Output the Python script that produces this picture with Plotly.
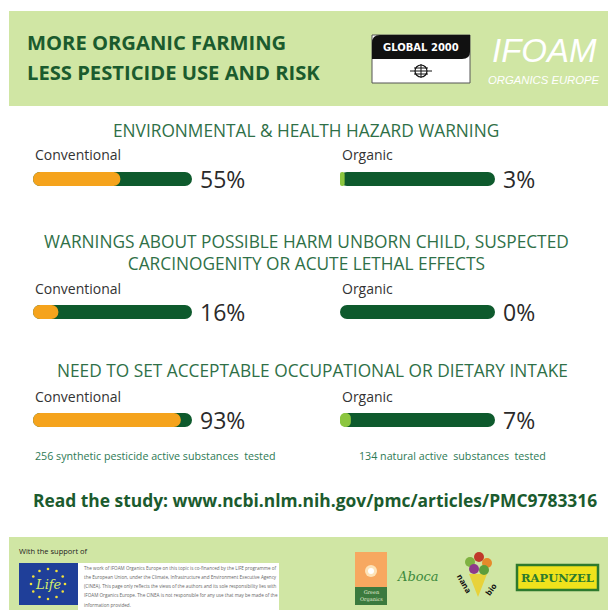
import math
import plotly.graph_objects as go

W, H = 608, 610

# ---------------- data ----------------
section_titles = [
    "ENVIRONMENTAL & HEALTH HAZARD WARNING",
    "WARNINGS ABOUT POSSIBLE HARM UNBORN CHILD, SUSPECTED<br>CARCINOGENITY OR ACUTE LETHAL EFFECTS",
    "NEED TO SET ACCEPTABLE OCCUPATIONAL OR DIETARY INTAKE",
]
groups = ["Conventional", "Organic"]
conventional_pct = [55, 16, 93]
organic_pct = [3, 0, 7]
tested_notes = [
    "256 synthetic pesticide active substances  tested",
    "134 natural active  substances  tested",
]
header_lines = ["MORE ORGANIC FARMING", "LESS PESTICIDE USE AND RISK"]
study_text = "Read the study: www.ncbi.nlm.nih.gov/pmc/articles/PMC9783316"
disclaimer_lines = [
    "The work of IFOAM Organics Europe on this topic is co-financed by the LIFE programme of",
    "the European Union, under the Climate, Infrastructure and Environment Executive Agency",
    "(CINEA). This page only reflects the views of the authors and its sole responsibility lies with",
    "IFOAM Organics Europe. The CINEA is not responsible for any use that may be made of the",
    "information provided.",
]

# ---------------- style / layout ----------------
FONT = "Open Sans"
BAND = "#d0e6a4"
DARK = "#0e5a2d"
TITLE_GREEN = "#2f7047"
ORANGE = "#f5a31c"
LIME = "#8cc63f"
fill_colors = [ORANGE, LIME]
values = [conventional_pct, organic_pct]

col_left = [(33, 192), (340, 495)]          # pixel span of the tracks
bar_center = [179, 312, 420]
bar_thick = 14
title_y = [130, 253, 370]
title_x = [306, 306, 312]


def px(x):
    return x / W


def py(y):
    return 1 - y / H


def note(x, y, text, font, **kw):
    d = dict(xref="paper", yref="paper", x=px(x), y=py(y), text=text, showarrow=False,
             xanchor="center", yanchor="middle", font=font)
    d.update(kw)
    return d


fig = go.Figure()
xnames = ["x", "x2"]
ynames = ["y", "y2", "y3"]

annotations = []
shapes = []

for i in range(3):
    for j in range(2):
        xa, ya = xnames[j], ynames[i]
        fig.add_trace(go.Bar(
            x=[100], base=[0], y=[0], orientation="h", width=1,
            marker=dict(color=DARK, cornerradius=7, line_width=0),
            xaxis=xa, yaxis=ya, hoverinfo="skip", showlegend=False))
        v = values[j][i]
        fig.add_trace(go.Bar(
            x=[v], base=[0], y=[0], orientation="h", width=1,
            marker=dict(color=fill_colors[j], cornerradius=7, line_width=0),
            xaxis=xa, yaxis=ya, hoverinfo="skip", showlegend=False))
        annotations.append(dict(
            xref=xa, yref=ya, x=100, y=0, xanchor="left", yanchor="middle",
            xshift=6, text=f"{v}%", showarrow=False,
            font=dict(family=FONT, size=23, color="#2a2a2a")))
        annotations.append(note(col_left[j][0], bar_center[i] - 24, groups[j],
                                dict(family=FONT, size=14, color="#333333"), xanchor="left"))
    annotations.append(note(title_x[i], title_y[i], section_titles[i],
                            dict(family=FONT, size=17.3, color=TITLE_GREEN)))

for j in range(2):
    annotations.append(note(col_left[j][0] + (0 if j == 0 else 17), 456, tested_notes[j],
                            dict(family=FONT, size=10.7, color="#2e7a55"), xanchor="left"))

layout_axes = {}
for j in range(2):
    key = "xaxis" if j == 0 else f"xaxis{j + 1}"
    layout_axes[key] = dict(domain=[px(col_left[j][0]), px(col_left[j][1])], range=[0, 100],
                            visible=False, fixedrange=True, anchor="y")
for i in range(3):
    key = "yaxis" if i == 0 else f"yaxis{i + 1}"
    c = bar_center[i]
    layout_axes[key] = dict(domain=[py(c + bar_thick / 2), py(c - bar_thick / 2)], range=[-0.5, 0.5],
                            visible=False, fixedrange=True, anchor="x")

# ---------------- header ----------------
shapes.append(dict(type="rect", xref="paper", yref="paper", x0=px(9), x1=px(608), y0=py(106), y1=py(11),
                   fillcolor=BAND, line_width=0, layer="below"))
for k, t in enumerate(header_lines):
    annotations.append(note(25, 42 + 30 * k, f"<b>{t}</b>",
                            dict(family=FONT, size=20.2, color="#1b5b2e"), xanchor="left"))

# GLOBAL 2000 logo
shapes.append(dict(type="rect", xref="paper", yref="paper", x0=px(372), x1=px(470), y0=py(83), y1=py(35),
                   fillcolor="white", line=dict(color="#555", width=1)))
gx0, gx1, gy0, gy1 = px(372), px(470), py(35), py(59)
shapes.append(dict(type="path", xref="paper", yref="paper",
                   path=f"M {px(380)} {gy0} L {gx1} {gy0} L {gx1} {py(52)} Q {gx1} {gy1} {px(462)} {gy1} "
                        f"L {gx0} {gy1} L {gx0} {py(43)} Q {gx0} {gy0} {px(380)} {gy0} Z",
                   fillcolor="#111", line_width=0))
annotations.append(note(421, 47.5, "<b>GLOBAL 2000</b>", dict(family="DejaVu Sans", size=10, color="white")))
shapes.append(dict(type="circle", xref="paper", yref="paper", x0=px(415), x1=px(427), y0=py(77), y1=py(65),
                   line=dict(color="#111", width=1.2)))
for yy in (68, 71, 74):
    shapes.append(dict(type="line", xref="paper", yref="paper", x0=px(410 if yy == 71 else 414),
                       x1=px(432 if yy == 71 else 428), y0=py(yy), y1=py(yy), line=dict(color="#111", width=1)))
shapes.append(dict(type="line", xref="paper", yref="paper", x0=px(421), x1=px(421), y0=py(64), y1=py(78),
                   line=dict(color="#111", width=1)))

# IFOAM logo
annotations.append(note(544, 51, "<i>IFOAM</i>", dict(family="Liberation Sans", size=33, color="white")))
annotations.append(note(544, 80, "<i>ORGANICS EUROPE</i>", dict(family="Liberation Sans", size=11.3,
                                                                  color="white")))

# ---------------- study link ----------------
annotations.append(note(31, 500, f"<b>{study_text}</b>", dict(family=FONT, size=17.4, color="#1b5b2e"),
                        xanchor="left"))

# ---------------- footer ----------------
shapes.append(dict(type="rect", xref="paper", yref="paper", x0=px(9), x1=px(608), y0=py(610), y1=py(537),
                   fillcolor=BAND, line_width=0, layer="below"))
annotations.append(note(17, 551, "With the support of", dict(family=FONT, size=7.5, color="#222"),
                        xanchor="left"))
# EU LIFE logo
shapes.append(dict(type="rect", xref="paper", yref="paper", x0=px(19), x1=px(78), y0=py(605), y1=py(563),
                   fillcolor="#1f3f99", line_width=0))
for k in range(12):
    a = 2 * math.pi * k / 12
    cx, cy = 48 + 17 * math.cos(a), 584 + 15 * math.sin(a)
    shapes.append(dict(type="circle", xref="paper", yref="paper", x0=px(cx - 1.3), x1=px(cx + 1.3),
                       y0=py(cy + 1.3), y1=py(cy - 1.3), fillcolor="#f3e23a", line_width=0))
annotations.append(note(48, 584, "<i>Life</i>", dict(family="DejaVu Serif", size=13, color="#d6ec6a")))
# disclaimer box
shapes.append(dict(type="rect", xref="paper", yref="paper", x0=px(78), x1=px(279), y0=py(610), y1=py(563),
                   fillcolor="white", line_width=0))
for k, t in enumerate(disclaimer_lines):
    annotations.append(note(82, 567.5 + 9.3 * k, t, dict(family=FONT, size=4.6, color="#666"),
                            xanchor="left"))
# Green Organics
shapes.append(dict(type="rect", xref="paper", yref="paper", x0=px(355), x1=px(387), y0=py(587), y1=py(552),
                   fillcolor="#f7a860", line_width=0))
shapes.append(dict(type="circle", xref="paper", yref="paper", x0=px(365), x1=px(377), y0=py(577), y1=py(565),
                   fillcolor="#fde3b8", line_width=0))
shapes.append(dict(type="circle", xref="paper", yref="paper", x0=px(368), x1=px(374), y0=py(574), y1=py(568),
                   fillcolor="white", line_width=0))
shapes.append(dict(type="rect", xref="paper", yref="paper", x0=px(355), x1=px(387), y0=py(605), y1=py(587),
                   fillcolor="#3b7a3e", line_width=0))
annotations.append(note(371, 596, "Green<br>Organics", dict(family="DejaVu Serif", size=5, color="#e8f0d8")))
# Aboca
annotations.append(note(418, 576, "<i>Aboca</i>", dict(family="DejaVu Serif", size=13, color="#3d8a3c")))
# nana bio
shapes.append(dict(type="path", xref="paper", yref="paper",
                   path=f"M {px(469)} {py(574)} L {px(487)} {py(574)} L {px(478)} {py(597)} Z",
                   fillcolor="#e8d23a", line_width=0))
for (cx, cy, r, col) in [(470, 562, 5, "#7fb241"), (479, 557, 5, "#c0392b"), (487, 563, 5, "#e58a2b"),
                         (474, 569, 5, "#8e3a8a"), (484, 570, 5, "#5d9e3a")]:
    shapes.append(dict(type="circle", xref="paper", yref="paper", x0=px(cx - r), x1=px(cx + r),
                       y0=py(cy + r), y1=py(cy - r), fillcolor=col, line_width=0))
annotations.append(note(465, 583, "<b>nana</b>", dict(family=FONT, size=8, color="#111"), textangle=60))
annotations.append(note(490, 589, "<b>bio</b>", dict(family=FONT, size=8, color="#111"), textangle=-55))
# Rapunzel
shapes.append(dict(type="rect", xref="paper", yref="paper", x0=px(517), x1=px(598), y0=py(590), y1=py(565),
                   fillcolor="#f0e21c", line=dict(color="#2d7a2d", width=2.5)))
annotations.append(note(557.5, 577.5, "<b>RAPUNZEL</b>", dict(family="DejaVu Serif", size=11.5, color="#2d7a2d")))

fig.update_layout(
    width=W, height=H, margin=dict(l=0, r=0, t=0, b=0),
    paper_bgcolor="white", plot_bgcolor="rgba(0,0,0,0)",
    barmode="overlay", showlegend=False,
    annotations=annotations, shapes=shapes,
    **layout_axes,
)

fig.write_html("out.html", config={"displayModeBar": False},
               post_script="document.body.style.margin='0px';")
